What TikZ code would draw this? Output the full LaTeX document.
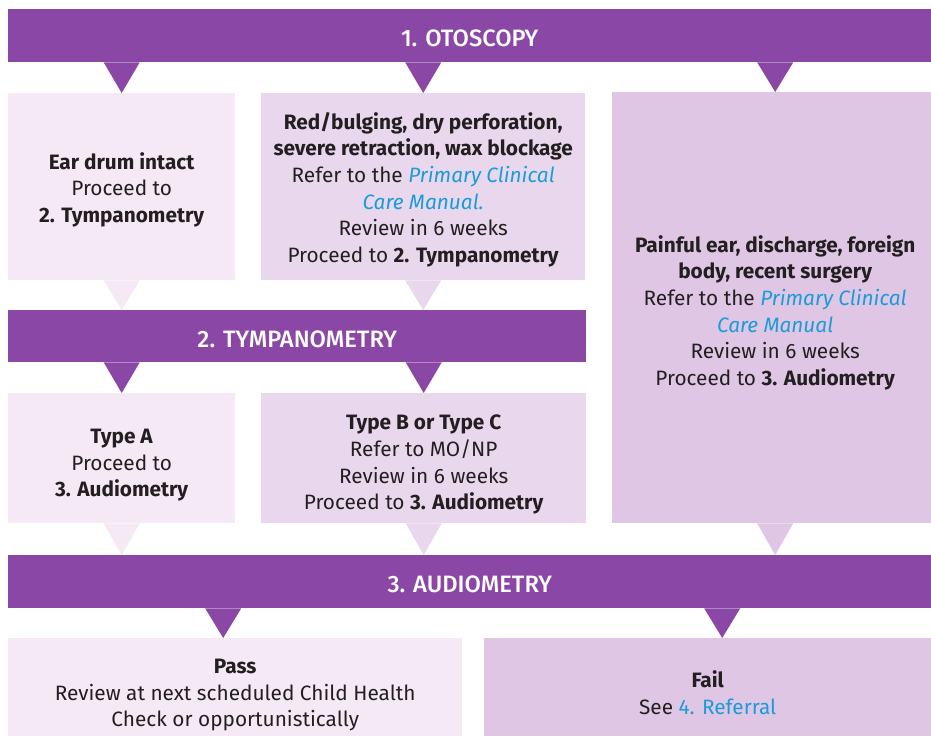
\documentclass[tikz,border=0pt]{standalone}
\usepackage{fontspec}
\setmainfont{Fira Sans}
\IfFontExistsTF{Fira Sans Medium}
  {\newfontfamily\bannerfont{Fira Sans Medium}}
  {\newfontfamily\bannerfont[FakeBold=1.2]{Fira Sans}}
\usetikzlibrary{calc}
\definecolor{purp}{HTML}{8A47A6}
\definecolor{boxA}{HTML}{F4E9F4}
\definecolor{boxB}{HTML}{E9D8ED}
\definecolor{boxC}{HTML}{DFC6E4}
\definecolor{linkc}{HTML}{1B9CD8}
\definecolor{txt}{HTML}{231F20}
\newcommand\dtri[3]{\fill[#1] ($(#2)+(-18,0)$) -- ($(#2)+(18,0)$) -- (#3) -- cycle;}
\newcommand\lnk[1]{\textcolor{linkc}{#1}}
\begin{document}
\begin{tikzpicture}[x=1pt,y=-1pt,
  banner/.style={fill=purp, inner sep=0pt, anchor=north west},
  bantext/.style={text=white, inner sep=0pt, font=\bannerfont\fontsize{23.7}{26}\selectfont},
  boxn/.style={inner sep=0pt, anchor=north west},
  txtn/.style={inner sep=0pt, align=center, text=txt, font=\fontsize{20.8}{26.7}\selectfont}]
\useasboundingbox (0,0) rectangle (931,736);
\fill[white] (0,0) rectangle (931,736);
% banners
\node[banner, minimum width=923pt, minimum height=53pt] (ban1) at (8,9) {};
\node[banner, minimum width=578pt, minimum height=52pt] (ban2) at (8,310) {};
\node[banner, minimum width=923pt, minimum height=53pt] (ban3) at (8,555) {};
\node[bantext] (ban1T) at ($(ban1.center)+(0,3)$) {1. OTOSCOPY};
\node[bantext] (ban2T) at ($(ban2.center)+(0,3)$) {2. TYMPANOMETRY};
\node[bantext] (ban3T) at ($(ban3.center)+(0,3)$) {3. AUDIOMETRY};
% boxes
\node[boxn, fill=boxA, minimum width=227pt, minimum height=187pt] (b1) at (8,93) {};
\node[boxn, fill=boxB, minimum width=324pt, minimum height=187pt] (b2) at (261,93) {};
\node[boxn, fill=boxC, minimum width=319pt, minimum height=431pt] (b3) at (612,92) {};
\node[boxn, fill=boxA, minimum width=227pt, minimum height=130pt] (tA) at (8,393) {};
\node[boxn, fill=boxB, minimum width=325pt, minimum height=130pt] (tB) at (261,393) {};
\node[boxn, fill=boxA, minimum width=454pt, minimum height=98pt] (pass) at (8,638) {};
\node[boxn, fill=boxC, minimum width=447pt, minimum height=98pt] (fail) at (484,638) {};
% texts
\node[txtn] (b1T) at ($(b1.center)+(0,3)$)
  {\textbf{Ear drum intact}\\Proceed to\\\textbf{2. Tympanometry}};
\node[txtn] (b2T) at ($(b2.center)+(0,3)$)
  {\textbf{Red/bulging, dry perforation,}\\\textbf{severe retraction, wax blockage}\\Refer to the \lnk{\textit{Primary Clinical}}\\\lnk{\textit{Care Manual.}}\\Review in 6 weeks\\Proceed to \textbf{2. Tympanometry}};
\node[txtn] (b3T) at ($(b3.center)+(3.5,5)$)
  {\textbf{Painful ear, discharge, foreign}\\\textbf{body, recent surgery}\\Refer to the \lnk{\textit{Primary Clinical}}\\\lnk{\textit{Care Manual}}\\Review in 6 weeks\\Proceed to \textbf{3. Audiometry}};
\node[txtn] (tAT) at ($(tA.center)+(0,7)$)
  {\textbf{Type A}\\Proceed to\\\textbf{3. Audiometry}};
\node[txtn] (tBT) at ($(tB.center)+(0,6.5)$)
  {\textbf{Type B or Type C}\\Refer to MO/NP\\Review in 6 weeks\\Proceed to \textbf{3. Audiometry}};
\node[txtn] (passT) at ($(pass.center)+(0,8)$) {\textbf{Pass}\\Review at next scheduled Child Health\\Check or opportunistically};
\node[txtn] (failT) at ($(fail.center)+(0,5.5)$) {\textbf{Fail}\\See \lnk{4. Referral}};
% triangles
\coordinate (s1) at (ban1.south -| b1.north);
\coordinate (s2) at (ban1.south -| b2.north);
\coordinate (t3) at ($(b3.north)+(3.5,0)$);
\coordinate (s3) at (ban1.south -| t3);
\dtri{purp}{s1}{b1.north}
\dtri{purp}{s2}{b2.north}
\dtri{purp}{s3}{t3}
\coordinate (u1) at (b1.south |- ban2.north);
\coordinate (u2) at (b2.south |- ban2.north);
\dtri{boxA}{b1.south}{u1}
\dtri{boxB}{b2.south}{u2}
\coordinate (v1) at (ban2.south -| tA.north);
\coordinate (v2) at (ban2.south -| tB.north);
\dtri{purp}{v1}{tA.north}
\dtri{purp}{v2}{tB.north}
\coordinate (w1) at (tA.south |- ban3.north);
\coordinate (w2) at (tB.south |- ban3.north);
\coordinate (w3b) at ($(b3.south)+(3.5,0)$);
\coordinate (w3) at (w3b |- ban3.north);
\dtri{boxA}{tA.south}{w1}
\dtri{boxB}{tB.south}{w2}
\dtri{boxC}{w3b}{w3}
\coordinate (p1) at ($(pass.north)+(-12,0)$);
\coordinate (p2) at ($(fail.north)+(14.5,0)$);
\coordinate (q1) at (ban3.south -| p1);
\coordinate (q2) at (ban3.south -| p2);
\dtri{purp}{q1}{p1}
\dtri{purp}{q2}{p2}
\end{tikzpicture}
\end{document}
